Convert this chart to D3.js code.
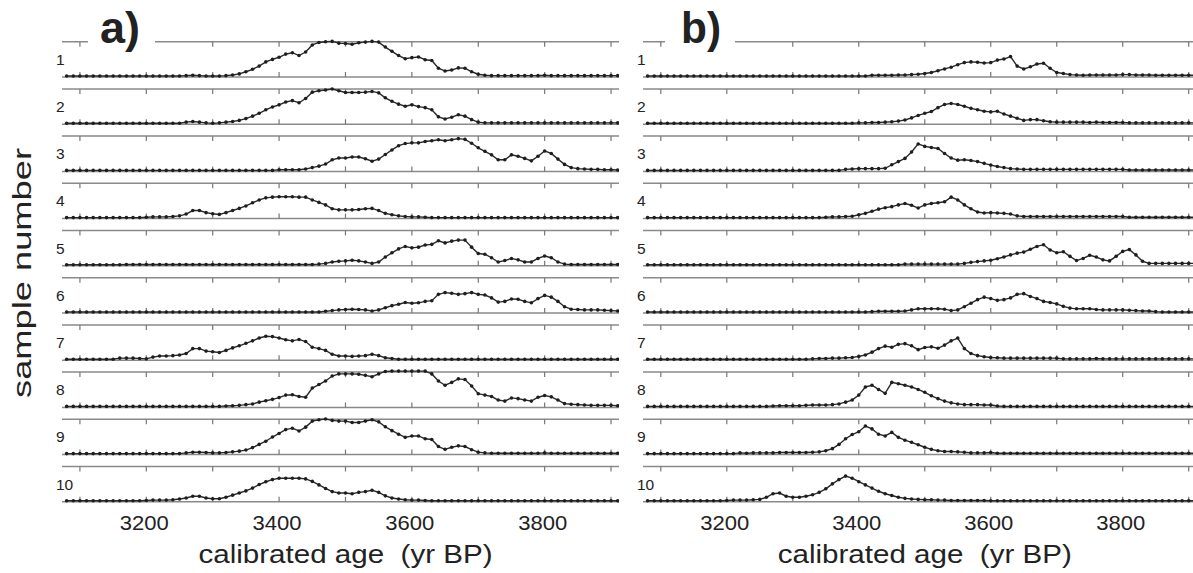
<!DOCTYPE html>
<html>
<head>
    <script src="https://cdnjs.cloudflare.com/ajax/libs/d3/7.8.5/d3.min.js"></script>
    <style>
        body { margin: 0; background: #fff; }
        text { font-family: Arial, "Liberation Sans", sans-serif; fill: #222; }
        .frame { stroke: #8a8a8a; stroke-width: 1.5px; }
        .tick { stroke: #777; stroke-width: 1.2px; }
        .trace { fill: none; stroke: #2a2a2a; stroke-width: 1.4px; }
        .dot { fill: #1e1e1e; }
    </style>
</head>
<body>
    <div id="chart"></div>
    <script>
        const width = 1193, height = 573;

        // sampled every 10 yr from 3080 to 3910 yr BP, values in % of row height
        const ages = d3.range(3080, 3911, 10);
        const tickAges = [3100, 3200, 3300, 3400, 3500, 3600, 3700, 3800, 3900];
        const tickLabels = [3200, 3400, 3600, 3800];
        const sampleNames = ["1", "2", "3", "4", "5", "6", "7", "8", "9", "10"];

        // panel a)
        const a1 = [0,0, 0,0,0,0,0,0,0,0,0,0, 0,0,0,0,0,0,1,2,1,0, 0,0,1,3,6,12,19,28,40,47,
            53,62,66,58,68,88,95,97,98,93, 92,90,94,96,98,96,82,70,58,49, 52,54,46,44,22,14,17,23,22,12,
            5,2,1,1,1,1,1,1,1,1, 2,1,1,1,1,1,1,1,1,1, 1,1];
        const a2 = [0,0, 0,0,0,0,0,0,0,0,0,0, 0,0,0,0,0,0,3,5,3,1, 0,1,3,5,8,13,20,28,38,46,
            52,60,64,58,70,88,92,94,97,92, 87,87,87,88,90,86,72,62,54,48, 52,47,44,38,18,12,17,24,20,10,
            3,1,1,1,1,1,1,1,1,1, 1,1,1,1,1,1,1,1,1,1, 1,1];
        const a3 = [0,0, 0,0,0,0,0,0,0,0,0,0, 0,0,0,0,0,0,0,0,0,0, 0,0,0,0,0,0,0,0,0,0,
            2,2,2,2,4,8,12,18,30,35, 35,38,38,33,26,32,45,58,70,76, 78,78,82,84,87,84,87,90,88,77,
            64,54,44,30,30,44,40,34,27,40, 55,48,32,17,8,5,4,3,3,2, 2,1];
        const a4 = [0,0, 0,0,0,0,0,0,0,0,0,0, 1,2,2,2,3,5,10,20,20,14, 11,9,14,20,26,33,42,50,56,58,
            59,59,59,58,58,50,43,36,25,22, 22,22,23,25,26,20,12,8,5,3, 2,2,1,0,0,0,0,0,0,0,
            0,0,0,0,0,0,0,0,0,0, 0,0,0,0,0,0,0,0,0,0, 0,0];
        const a5 = [0,0, 0,0,0,0,0,0,0,1,1,1, 1,1,1,1,1,1,1,1,1,1, 1,1,1,1,1,1,1,1,1,1,
            1,1,1,1,1,1,2,4,8,10, 11,13,11,8,4,8,22,34,45,52, 48,50,56,58,68,62,67,70,70,50,
            32,30,20,8,12,18,14,8,8,18, 25,20,8,2,1,1,1,1,1,1, 1,1];
        const a6 = [0,0, 0,0,0,0,0,0,0,0,0,0, 0,0,0,0,0,0,0,0,0,0, 0,0,0,0,0,0,0,0,0,0,
            0,0,0,0,0,0,0,2,4,6, 7,8,7,6,3,6,12,18,22,27, 25,26,30,32,50,55,53,50,52,55,
            50,48,40,28,30,37,36,30,26,38, 47,42,30,15,8,7,6,6,6,5, 4,3];
        const a7 = [0,0, 0,0,0,0,0,0,3,3,3,2, 1,6,9,9,10,12,16,30,30,23, 21,19,25,32,38,45,52,60,65,64,
            60,55,52,56,50,34,30,25,14,9, 9,8,9,10,14,10,4,2,0,0, 0,0,0,0,0,0,0,0,0,0,
            0,0,0,0,0,0,0,0,0,0, 0,0,0,0,0,0,0,0,0,0, 0,0];
        const a8 = [0,0, 0,0,0,0,0,0,0,0,0,0, 0,0,0,0,0,0,0,0,0,0, 0,0,1,2,3,5,7,12,16,20,
            25,32,33,28,26,52,62,72,86,92, 92,92,91,88,84,92,99,100,100,100, 100,100,100,92,72,60,68,78,76,58,
            36,32,28,18,15,24,22,18,15,26, 31,27,18,8,6,5,4,3,3,3, 3,2];
        const a9 = [0,0, 0,0,0,0,0,0,0,0,0,0, 0,0,0,0,0,0,2,4,4,3, 2,2,3,5,7,10,17,26,35,47,
            57,68,72,64,75,92,96,98,94,92, 92,88,88,92,96,90,76,65,55,46, 50,50,42,40,20,12,18,22,20,11,
            4,2,1,1,1,1,1,1,1,1, 2,1,1,1,1,1,1,1,1,1, 1,1];
        const a10 = [0,0, 0,0,0,0,0,0,0,0,0,0, 1,2,2,2,3,5,8,13,13,8, 6,6,10,16,22,28,36,46,54,60,
            64,64,64,64,62,55,45,35,26,22, 22,20,24,26,30,24,14,8,5,3, 2,2,1,0,0,0,0,0,0,0,
            0,0,0,0,0,0,0,0,0,0, 0,0,0,0,0,0,0,0,0,0, 0,0];

        // panel b)
        const b1 = [0,0, 0,0,0,0,0,0,0,0,0,0, 0,0,0,0,0,0,0,0,0,0, 0,0,0,0,0,0,0,0,0,0,
            0,0,2,2,2,2,3,3,4,5, 7,10,15,20,25,32,38,40,39,37, 38,45,48,55,28,20,26,34,36,22,
            10,7,4,3,2,3,3,3,3,3, 4,4,3,3,3,2,2,2,2,2, 2,2];
        const b2 = [0,0, 0,0,0,0,0,0,0,0,0,0, 0,0,0,0,0,0,0,0,0,0, 0,0,0,0,0,0,0,0,0,0,
            1,1,2,2,3,4,6,9,15,22, 28,33,44,53,56,53,48,42,38,34, 32,34,26,20,14,8,10,10,7,4,
            3,3,3,3,3,2,3,2,2,2, 2,1,1,1,1,1,1,1,1,1, 1,1];
        const b3 = [0,0, 0,0,0,0,0,0,0,0,0,0, 0,0,0,0,0,0,0,0,0,0, 0,0,0,0,0,0,0,0,3,4,
            5,5,5,5,6,16,25,34,52,75, 68,65,62,48,35,29,30,28,25,20, 15,11,8,5,4,3,3,3,3,3,
            3,3,3,3,3,3,3,3,3,3, 3,1,1,1,1,1,1,1,1,1, 1,1];
        const b4 = [0,0, 0,0,0,0,0,0,0,0,0,0, 0,0,0,0,0,0,0,0,0,0, 0,0,0,0,0,1,2,2,3,4,
            8,12,18,24,28,31,36,40,35,27, 36,40,42,45,58,50,36,25,16,13, 14,13,12,10,5,3,3,3,3,3,
            3,3,3,3,3,3,3,3,3,3, 3,1,1,1,1,1,1,1,1,1, 1,1];
        const b5 = [0,0, 0,0,0,0,0,0,0,0,0,0, 0,0,0,0,0,0,0,0,0,0, 0,0,0,0,0,0,0,0,0,0,
            0,0,0,0,0,0,0,2,2,2, 2,2,2,2,2,2,4,7,9,11, 13,17,22,28,33,36,44,52,57,42,
            34,37,24,12,18,27,22,14,11,24, 38,43,28,10,4,4,4,4,4,4, 4,4];
        const b6 = [0,0, 0,0,0,0,0,0,0,0,0,0, 0,0,0,0,0,0,0,0,0,0, 0,0,0,0,0,0,0,0,0,0,
            0,0,1,2,2,2,2,3,6,9, 9,9,9,8,4,6,15,25,35,42, 38,33,35,40,50,52,44,38,30,27,
            23,16,11,9,9,9,7,6,6,6, 6,5,4,3,3,1,0,0,0,0, 0,0];
        const b7 = [0,0, 0,0,0,0,0,0,0,0,0,0, 0,0,0,0,0,0,0,0,0,0, 0,0,0,1,2,2,3,3,4,5,
            8,12,20,30,37,34,42,44,38,27, 33,35,31,40,52,60,30,16,10,7, 5,4,3,3,3,3,3,3,3,3,
            3,1,1,1,1,1,2,1,1,1, 1,1,1,1,1,1,1,1,1,1, 1,1];
        const b8 = [0,0, 0,0,0,0,0,0,0,0,0,0, 0,0,0,0,0,0,0,1,2,2, 2,2,3,4,4,4,5,7,12,18,
            32,55,60,48,37,68,64,60,55,48, 40,30,22,15,10,7,5,5,5,4, 4,1,0,0,0,0,0,0,0,0,
            0,0,0,0,0,0,0,0,0,0, 0,0,0,0,0,0,0,0,0,0, 0,0];
        const b9 = [0,0, 0,0,0,0,0,0,0,0,0,0, 0,0,2,1,2,2,2,2,3,3, 3,3,3,4,5,8,14,26,42,54,
            62,78,70,55,50,60,46,38,32,25, 18,12,8,6,6,5,4,2,2,2, 3,1,1,1,1,1,1,1,1,1,
            1,1,1,1,1,1,1,1,1,1, 1,1,1,1,1,1,1,1,1,1, 1,1];
        const b10 = [0,0, 0,0,0,0,0,0,0,0,0,0, 1,2,2,2,3,4,10,20,22,13, 10,10,13,17,24,34,48,60,70,64,
            54,45,36,27,20,15,10,7,5,4, 3,3,2,2,1,1,1,1,1,1, 0,0,0,0,0,0,0,0,0,0,
            0,0,0,0,0,0,0,0,0,0, 0,0,0,0,0,0,0,0,0,0, 0,0];

        const seriesA = [a1, a2, a3, a4, a5, a6, a7, a8, a9, a10];
        const seriesB = [b1, b2, b3, b4, b5, b6, b7, b8, b9, b10];

        const panels = [
            { name: "a)", series: seriesA, left: 62, right: 619, domain: [3073, 3912], labelX: 100, gap: [88, 155] },
            { name: "b)", series: seriesB, left: 643, right: 1193, domain: [3073, 3906.5], labelX: 681, gap: [665, 735] }
        ];

        const rowTop0 = 41.7, rowStep = 47.2, rowH = 35.3;

        const svg = d3.select("#chart").append("svg")
            .attr("width", width).attr("height", height);

        panels.forEach(p => {
            const x = d3.scaleLinear().domain(p.domain).range([p.left, p.right]);
            const g = svg.append("g");

            const clipId = "clip" + p.left;
            svg.append("clipPath").attr("id", clipId)
                .append("rect").attr("x", p.left).attr("y", 0)
                .attr("width", p.right - p.left).attr("height", height);

            p.series.forEach((vals, i) => {
                const top = rowTop0 + rowStep * i, base = top + rowH;
                const y = d3.scaleLinear().domain([0, 100]).range([base, top]).clamp(true);
                const row = g.append("g");

                // top and bottom lines of the row
                row.append("line").attr("class", "frame")
                    .attr("x1", p.left).attr("x2", p.right).attr("y1", top).attr("y2", top);
                row.append("line").attr("class", "frame")
                    .attr("x1", p.left).attr("x2", p.right).attr("y1", base).attr("y2", base);

                // ticks pointing inward
                row.selectAll(".tt").data(tickAges).enter().append("line")
                    .attr("class", "tick")
                    .attr("x1", d => x(d)).attr("x2", d => x(d))
                    .attr("y1", top).attr("y2", top + 5);
                row.selectAll(".tb").data(tickAges).enter().append("line")
                    .attr("class", "tick")
                    .attr("x1", d => x(d)).attr("x2", d => x(d))
                    .attr("y1", base).attr("y2", base - 5);

                const pts = ages.map((a, k) => [a, vals[k]]);
                const marks = row.append("g").attr("clip-path", `url(#${clipId})`);
                marks.append("path").attr("class", "trace")
                    .attr("d", d3.line().x(d => x(d[0])).y(d => y(d[1]) - 1)(pts));
                marks.selectAll("circle").data(pts).enter().append("circle")
                    .attr("class", "dot")
                    .attr("cx", d => x(d[0])).attr("cy", d => y(d[1]) - 1)
                    .attr("r", 1.8);

                row.append("text")
                    .attr("x", p.left - 6).attr("y", top + 23)
                    .attr("font-size", 15.5)
                    .text(sampleNames[i]);
            });

            // panel letter over a gap in the top line
            g.append("rect").attr("x", p.gap[0]).attr("y", 30)
                .attr("width", p.gap[1] - p.gap[0]).attr("height", 18).attr("fill", "#fff");
            g.append("text")
                .attr("x", p.labelX).attr("y", 43)
                .attr("font-size", 44).attr("font-weight", "bold")
                .attr("textLength", 40).attr("lengthAdjust", "spacingAndGlyphs")
                .text(p.name);

            g.selectAll(".ticklabel").data(tickLabels).enter().append("text")
                .attr("x", d => x(d) - 2).attr("y", 530)
                .attr("text-anchor", "middle")
                .attr("font-size", 20)
                .attr("textLength", 49).attr("lengthAdjust", "spacingAndGlyphs")
                .text(d => d);

            g.append("text")
                .attr("x", x(3500)).attr("y", 563)
                .attr("text-anchor", "middle")
                .attr("font-size", 25)
                .attr("textLength", 294).attr("lengthAdjust", "spacingAndGlyphs")
                .style("white-space", "pre")
                .text("calibrated age  (yr BP)");
        });

        svg.append("text")
            .attr("transform", "translate(31,273) rotate(-90)")
            .attr("text-anchor", "middle")
            .attr("font-size", 26)
            .attr("textLength", 250).attr("lengthAdjust", "spacingAndGlyphs")
            .text("sample number");
    </script>
</body>
</html>
